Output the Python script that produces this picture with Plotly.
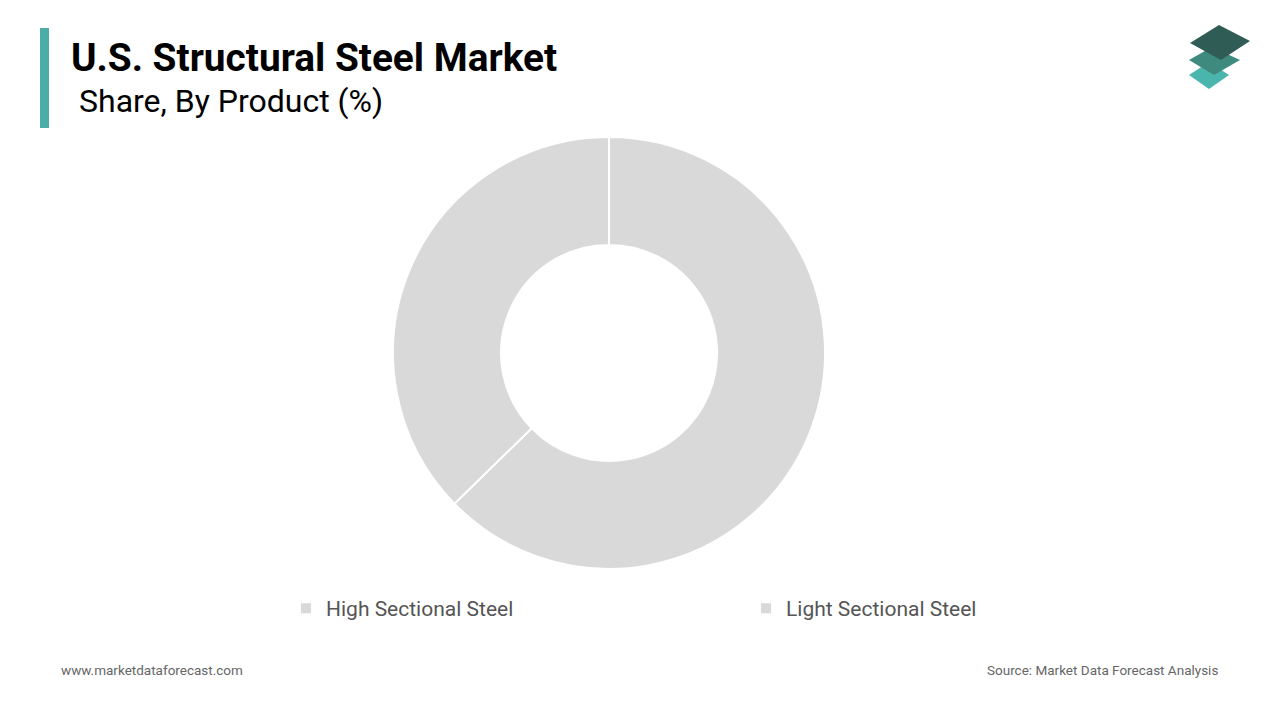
import plotly.graph_objects as go

products = ["High Sectional Steel", "Light Sectional Steel"]
shares = [62.7, 37.3]
slice_colors = ["#d9d9d9", "#d9d9d9"]

W, H = 1280, 720
OFF = 8  # page margin the browser adds around the plot


def px_x(x):
    return (x - OFF) / W


def px_y(y):
    return 1 - (y - OFF) / H


fig = go.Figure(go.Pie(
    labels=products, values=shares, hole=0.5, sort=False, direction="clockwise",
    rotation=0, marker=dict(colors=slice_colors, line=dict(color="white", width=2)),
    textinfo="none", hoverinfo="label+percent",
    domain=dict(x=[0.3008, 0.6383], y=[0.221, 0.821]),
))

fig.update_layout(
    width=W, height=H, paper_bgcolor="white", plot_bgcolor="white",
    margin=dict(l=0, r=0, t=0, b=0),
    font=dict(family="Roboto", color="#444"),
    legend=dict(orientation="h", x=px_x(286), xanchor="left", y=px_y(588), yanchor="top",
                font=dict(size=21, color="#555"), itemwidth=30, entrywidth=415),
    shapes=[
        dict(type="rect", xref="paper", yref="paper", x0=px_x(40), x1=px_x(49),
             y0=px_y(128), y1=px_y(28), fillcolor="#4aada8", line_width=0),
        dict(type="path", xref="paper", yref="paper",
             path=f"M {px_x(1189)},{px_y(75)} L {px_x(1209)},{px_y(62)} L {px_x(1229)},{px_y(75)} L {px_x(1209)},{px_y(89)} Z",
             fillcolor="#4ab5ad", line_width=0),
        dict(type="path", xref="paper", yref="paper",
             path=f"M {px_x(1189)},{px_y(60)} L {px_x(1212)},{px_y(47)} L {px_x(1240)},{px_y(60)} L {px_x(1214)},{px_y(75)} Z",
             fillcolor="#3e8a7e", line_width=0),
        dict(type="path", xref="paper", yref="paper",
             path=f"M {px_x(1190)},{px_y(43)} L {px_x(1219)},{px_y(25)} L {px_x(1250)},{px_y(41)} L {px_x(1221)},{px_y(60)} Z",
             fillcolor="#2f5d55", line_width=0),
    ],
    annotations=[
        dict(text="<b>U.S. Structural Steel Market</b>", x=px_x(69), y=px_y(58),
             xref="paper", yref="paper", xanchor="left", yanchor="middle",
             showarrow=False, font=dict(size=38.8, color="black")),
        dict(text="Share, By Product (%)", x=px_x(77), y=px_y(101),
             xref="paper", yref="paper", xanchor="left", yanchor="middle",
             showarrow=False, font=dict(size=32, color="black")),
        dict(text="www.marketdataforecast.com", x=px_x(59), y=px_y(670),
             xref="paper", yref="paper", xanchor="left", yanchor="middle",
             showarrow=False, font=dict(size=13.5, color="#666")),
        dict(text="Source: Market Data Forecast Analysis", x=px_x(1220), y=px_y(670),
             xref="paper", yref="paper", xanchor="right", yanchor="middle",
             showarrow=False, font=dict(size=13.5, color="#666")),
    ],
)

fig.write_html("out.html")
